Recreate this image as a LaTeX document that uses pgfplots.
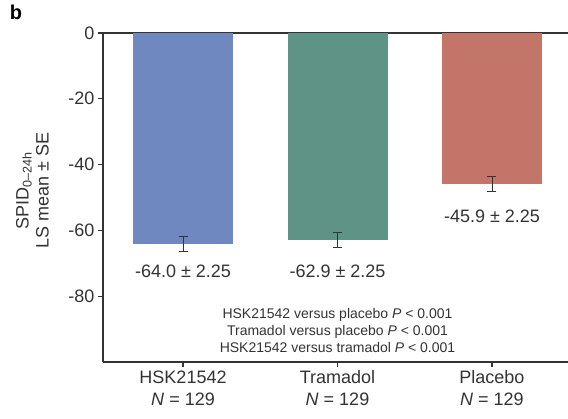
\documentclass[border=0pt]{standalone}
\usepackage{fontspec}
\setmainfont{Liberation Sans}
\usepackage{pgfplots}
\pgfplotsset{compat=1.18}

\definecolor{hskblue}{HTML}{7088C0}
\definecolor{tramteal}{HTML}{5F9385}
\definecolor{placred}{HTML}{C4756A}
\definecolor{axiscol}{HTML}{333333}

\begin{document}
\begin{tikzpicture}
\useasboundingbox (-103pt,-57pt) rectangle (465pt,362pt);
\begin{axis}[
    scale only axis,
    width=465pt,
    height=329pt,
    xmin=-0.518, xmax=2.492,
    ymin=-100, ymax=0,
    axis x line*=box,
    axis y line*=left,
    axis line style={-, draw=axiscol, line width=1.3pt},
    every tick/.style={draw=axiscol, line width=1.3pt},
    tick align=outside,
    xtick pos=left,
    ytick pos=left,
    major tick length=5pt,
    xtick={0,1,2},
    xticklabels={HSK21542\\\textit{N} = 129, Tramadol\\\textit{N} = 129, Placebo\\\textit{N} = 129},
    xticklabel style={align=center, font=\fontsize{18}{22}\selectfont, text=axiscol},
    ytick={-80,-60,-40,-20,0},
    yticklabels={-80,-60,-40,-20,0},
    yticklabel style={font=\fontsize{18}{22}\selectfont, text=axiscol},
    ylabel={SPID\textsubscript{0–24h}\\LS mean ± SE},
    every axis y label/.style={at={(axis description cs:-0.152,0.52)}, rotate=90, anchor=center},
    ylabel style={align=center, font=\fontsize{18}{20}\selectfont, text=axiscol},
    ybar,
    bar width=100pt,
    error bars/y dir=both,
    error bars/y explicit,
    error bars/error bar style={draw=axiscol, line width=0.8pt},
    error bars/error mark options={draw=axiscol, line width=0.8pt, mark size=4.5pt, rotate=90},
]
\addplot[fill=hskblue, draw=none, bar shift=0pt] coordinates {(0,-64.0) +- (0,2.25)};
\addplot[fill=tramteal, draw=none, bar shift=0pt] coordinates {(1,-62.9) +- (0,2.25)};
\addplot[fill=placred, draw=none, bar shift=0pt] coordinates {(2,-45.9) +- (0,2.25)};

\node[font=\fontsize{18}{22}\selectfont, text=axiscol] at (axis cs:0,-72.4) {-64.0 ± 2.25};
\node[font=\fontsize{18}{22}\selectfont, text=axiscol] at (axis cs:1,-72.5) {-62.9 ± 2.25};
\node[font=\fontsize{18}{22}\selectfont, text=axiscol] at (axis cs:2,-55.6) {-45.9 ± 2.25};
\node[align=center, font=\fontsize{14}{17}\selectfont, text=axiscol] at (axis cs:1,-90.3)
    {HSK21542 versus placebo \textit{P} < 0.001\\Tramadol versus placebo \textit{P} < 0.001\\HSK21542 versus tramadol \textit{P} < 0.001};
\end{axis}
\node[font=\bfseries\fontsize{20}{24}\selectfont] at (-87pt,350pt) {b};
\end{tikzpicture}
\end{document}
